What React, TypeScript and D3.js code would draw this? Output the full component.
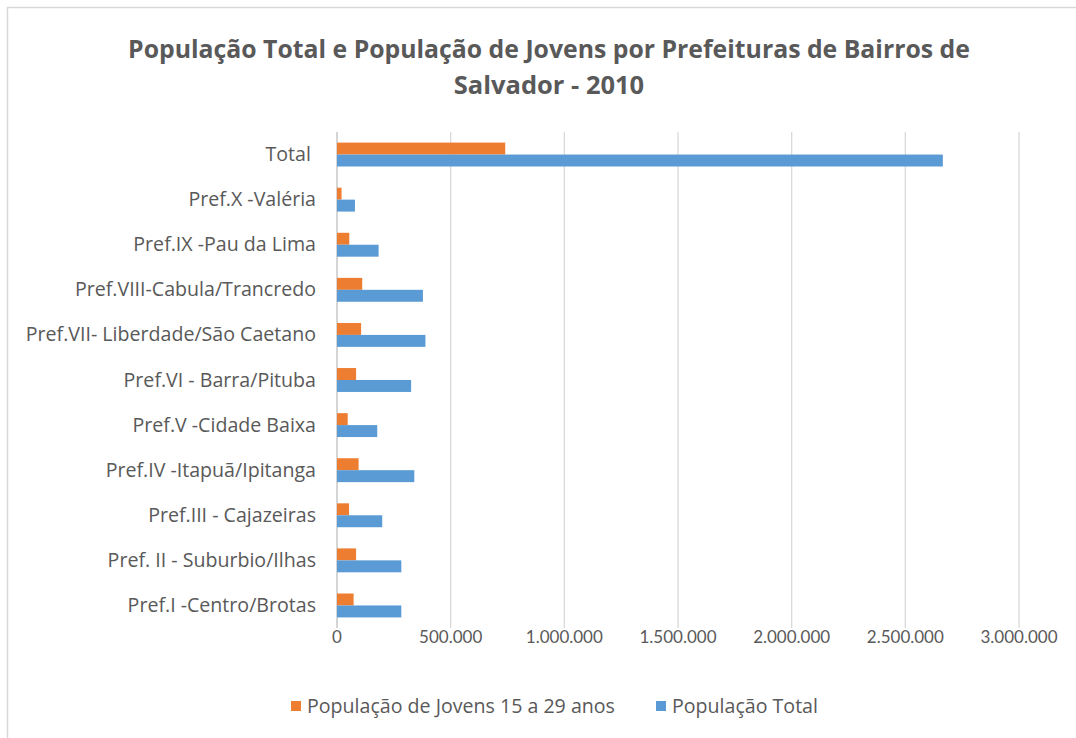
import React from "react";
import * as d3 from "d3";

const categories = [
  "Total ",
  "Pref.X -Valéria",
  "Pref.IX -Pau da Lima",
  "Pref.VIII-Cabula/Trancredo",
  "Pref.VII- Liberdade/São Caetano",
  "Pref.VI - Barra/Pituba",
  "Pref.V -Cidade Baixa",
  "Pref.IV -Itapuã/Ipitanga",
  "Pref.III - Cajazeiras",
  "Pref. II - Suburbio/Ilhas",
  "Pref.I -Centro/Brotas",
];

const jovens = [740000, 20000, 54000, 111000, 106000, 84000, 47000, 95000, 53000, 84000, 73000];
const total = [2665000, 79000, 183000, 378000, 389000, 326000, 177000, 340000, 199000, 283000, 283000];

const ticks = [0, 500000, 1000000, 1500000, 2000000, 2500000, 3000000];
const seriesNames = ["População de Jovens 15 a 29 anos", "População Total"];
const colors = ["#ED7D31", "#5B9BD5"];

const W = 1076;
const H = 738;
const plot = { left: 337, right: 1019, top: 132, bottom: 628 };
const font = "'Open Sans', sans-serif";
const tickFont = "Lato, sans-serif";
const textColor = "#595959";

const fmt = (v: number) => (v === 0 ? "0" : d3.format(",")(v).replace(/,/g, "."));

export default function App() {
  const x = d3.scaleLinear().domain([0, 3000000]).range([plot.left, plot.right]);
  const y = d3.scaleBand<string>().domain(categories).range([plot.top, plot.bottom]).paddingInner(0.47).paddingOuter(0.235);
  const sub = d3.scaleBand<number>().domain([0, 1]).range([0, y.bandwidth()]);
  const series = [jovens, total];

  return (
    <svg width={W} height={H} style={{ position: "absolute", left: 0, top: 0 }}>
      <rect x={0} y={0} width={W} height={H} fill="#fff" />
      <rect x={7.5} y={7.5} width={W + 10} height={H + 10} fill="none" stroke="#D9D9D9" strokeWidth={1.5} />
      <text x={549} y={58} textAnchor="middle" fontFamily={font} fontWeight={700} fontSize={24.8} fill={textColor}>
        População Total e População de Jovens por Prefeituras de Bairros de
      </text>
      <text x={549} y={94} textAnchor="middle" fontFamily={font} fontWeight={700} fontSize={25.5} fill={textColor}>
        Salvador - 2010
      </text>
      {ticks.map((t) => (
        <g key={t}>
          <line x1={x(t)} x2={x(t)} y1={plot.top} y2={plot.bottom} stroke={t === 0 ? "#BFBFBF" : "#D9D9D9"} strokeWidth={1.3} />
          <text x={x(t)} y={643} textAnchor="middle" fontFamily={tickFont} fontSize={17} fill={textColor}>
            {fmt(t)}
          </text>
        </g>
      ))}
      {categories.map((c, i) => (
        <g key={c}>
          <text
            x={316}
            y={(y(c) as number) + y.bandwidth() / 2 + 6.5}
            textAnchor="end"
            fontFamily={font}
            fontSize={19.6}
            fill={textColor}
            style={{ whiteSpace: "pre" }}
          >
            {c}
          </text>
          {series.map((s, k) => (
            <rect
              key={k}
              x={x(0)}
              y={(y(c) as number) + (sub(k) as number)}
              width={x(s[i]) - x(0)}
              height={sub.bandwidth()}
              fill={colors[k]}
            />
          ))}
        </g>
      ))}
      {seriesNames.map((n, k) => {
        const lx = k === 0 ? 291 : 656;
        return (
          <g key={n}>
            <rect x={lx} y={701} width={10} height={10} fill={colors[k]} />
            <text x={lx + 16} y={713} fontFamily={font} fontSize={19.6} fill={textColor}>
              {n}
            </text>
          </g>
        );
      })}
    </svg>
  );
}
